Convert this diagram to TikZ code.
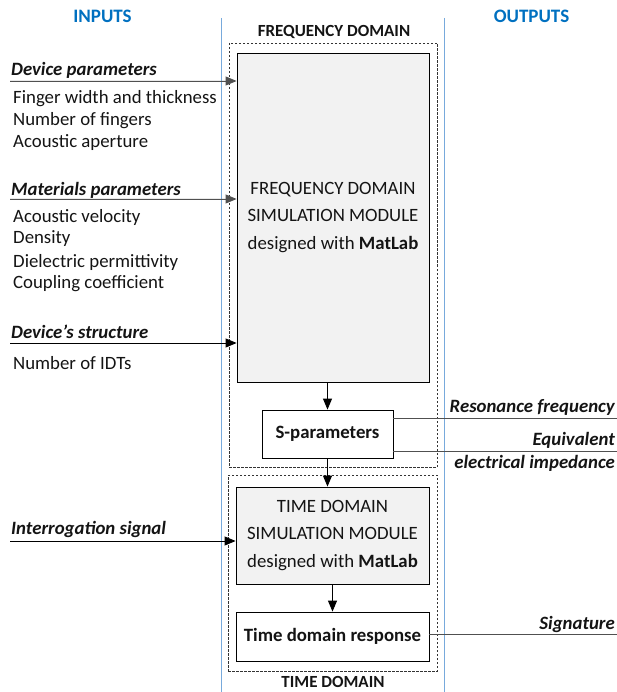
\documentclass[tikz,border=0pt]{standalone}
\usepackage{fontspec}
\setmainfont{Carlito}
\usetikzlibrary{arrows.meta}
\definecolor{hdrblue}{RGB}{0,112,192}
\definecolor{sepblue}{RGB}{120,170,220}
\definecolor{boxgray}{RGB}{242,242,242}
\definecolor{linegray}{RGB}{80,80,80}
\definecolor{txtcol}{RGB}{20,20,20}
\tikzset{
  txt/.style={inner sep=0pt, text=txtcol, font=\fontsize{18.8}{22}\selectfont},
  hdr/.style={inner sep=0pt, font=\fontsize{19}{22}\selectfont\bfseries, text=hdrblue},
  dom/.style={inner sep=0pt, text=txtcol, font=\fontsize{17}{20}\selectfont\bfseries},
  lbl/.style={inner sep=0pt, text=txtcol, font=\fontsize{18.8}{22}\selectfont\bfseries\itshape, anchor=west},
  lblr/.style={inner sep=0pt, text=txtcol, font=\fontsize{18.8}{22}\selectfont\bfseries\itshape, anchor=east},
  item/.style={txt, anchor=west},
  graybox/.style={draw=black, fill=boxgray, line width=0.8pt, align=center, inner sep=0pt, text=txtcol, font=\fontsize{18.8}{27.5}\selectfont},
  whitebox/.style={draw=black, fill=white, line width=0.8pt, align=center, inner sep=0pt, text=txtcol, font=\fontsize{18.8}{22}\selectfont\bfseries},
  dashbox/.style={draw=black!80, dashed, dash pattern=on 2.5pt off 1.5pt, line width=0.6pt},
  sep/.style={draw=sepblue, line width=0.6pt},
  inarrow/.style={line width=0.9pt, -{Triangle[length=11pt,width=9pt]}},
  flow/.style={line width=0.9pt, -{Triangle[length=11pt,width=9pt]}},
  outline/.style={draw=linegray, line width=1pt},
}
\begin{document}
\begin{tikzpicture}[x=1pt,y=-1pt]
\useasboundingbox (0,0) rectangle (617,692);
% separators
\coordinate (s1t) at (221,18); \coordinate (s1b) at (221,692);
\coordinate (s2t) at (444,18); \coordinate (s2b) at (444,692);
\draw[sep] (s1t) -- (s1b);
\draw[sep] (s2t) -- (s2b);
% headers
\node[hdr] (hin) at (102.5,16) {INPUTS};
\node[hdr] (hout) at (531.5,16) {OUTPUTS};
\node[dom] (hfd) at (334,32) {FREQUENCY DOMAIN};
\node[dom] (htd) at (333,681.5) {TIME DOMAIN};
% dashed domains
\node[dashbox, minimum width=208pt, minimum height=424pt] (fdash) at (333,255) {};
\node[dashbox, minimum width=209pt, minimum height=196pt] (tdash) at (332.5,573) {};
% boxes
\node[graybox, minimum width=192pt, minimum height=329pt] (fgray) at (333,217.5)
  {FREQUENCY DOMAIN\\SIMULATION MODULE\\designed with \textbf{MatLab}};
\node[whitebox, minimum width=131pt, minimum height=48pt] (spar) at (327.5,434) {S-parameters};
\node[graybox, minimum width=193pt, minimum height=97pt] (tgray) at (332.5,535.5)
  {TIME DOMAIN\\SIMULATION MODULE\\designed with \textbf{MatLab}};
\node[whitebox, minimum width=193pt, minimum height=49pt] (tresp) at (332.5,636.5) {Time domain response};
% flow arrows
\draw[flow] (fgray.south -| spar.north) -- (spar.north);
\draw[flow] (spar.south) -- (spar.south |- tgray.north);
\draw[flow] (tgray.south) -- (tresp.north);
% inputs
\node[lbl] (l1) at (11,70) {Device parameters};
\node[item] (i11) at (13,99) {Finger width and thickness};
\node[item] (i12) at (13,121) {Number of fingers};
\node[item] (i13) at (13,143) {Acoustic aperture};
\coordinate (a1) at (10,81);
\draw[inarrow, draw=linegray, fill=linegray] (a1) -- (a1 -| fgray.west);

\node[lbl] (l2) at (11,190) {Materials parameters};
\node[item] (i21) at (13,217) {Acoustic velocity};
\node[item] (i22) at (13,239) {Density};
\node[item] (i23) at (13,262) {Dielectric permittivity};
\node[item] (i24) at (13,284) {Coupling coefficient};
\coordinate (a2) at (10,199);
\draw[inarrow, draw=linegray, fill=linegray] (a2) -- (a2 -| fgray.west);

\node[lbl] (l3) at (11,332) {Device’s structure};
\node[item] (i31) at (13,363) {Number of IDTs};
\coordinate (a3) at (10,343);
\draw[inarrow] (a3) -- (a3 -| fgray.west);

\node[lbl] (l4) at (11,529) {Interrogation signal};
\coordinate (a4) at (10,541);
\draw[inarrow] (a4) -- (a4 -| tgray.west);
% outputs
\node[lblr] (o1) at (615,407) {Resonance frequency};
\coordinate (b1) at (617,418);
\draw[outline] (b1 -| spar.east) -- (b1);
\node[lblr] (o2) at (615,440) {Equivalent};
\node[lblr] (o3) at (615,463) {electrical impedance};
\coordinate (b2) at (617,451);
\draw[outline] (b2 -| spar.east) -- (b2);
\node[lblr] (o4) at (615,624) {Signature};
\coordinate (b3) at (617,634);
\draw[outline] (b3 -| tresp.east) -- (b3);
\end{tikzpicture}
\end{document}
